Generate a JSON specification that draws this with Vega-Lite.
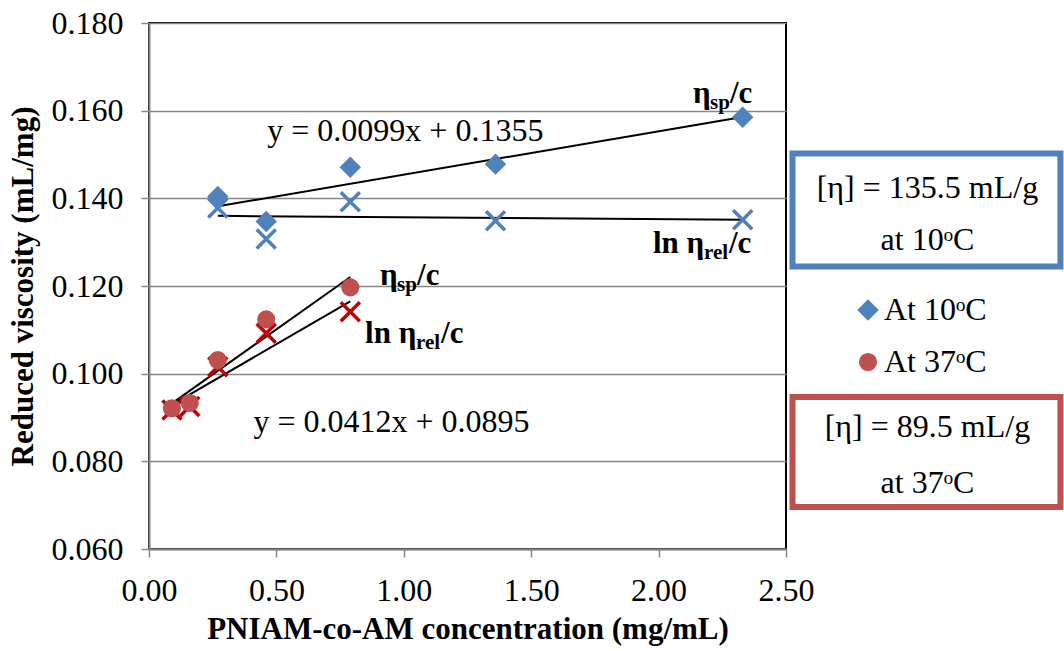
{
  "$schema": "https://vega.github.io/schema/vega-lite/v6.json",
  "width": 637,
  "height": 526,
  "autosize": {"type": "none"},
  "padding": {"left": 149, "top": 23, "right": 278, "bottom": 102},
  "background": "white",
  "config": {
    "view": {"stroke": "#000000", "strokeWidth": 2},
    "font": "Liberation Serif",
    "axis": {
      "labelFont": "Liberation Serif",
      "labelFontSize": 32,
      "labelColor": "#000000",
      "labelFlush": false,
      "titleFont": "Liberation Serif",
      "titleFontSize": 31,
      "titleFontWeight": "bold",
      "titleColor": "#000000",
      "domainColor": "#868686",
      "domainWidth": 2,
      "tickColor": "#868686",
      "tickWidth": 1.5,
      "gridColor": "#868686",
      "gridWidth": 1.5
    },
    "axisX": {"grid": false, "tickSize": 8, "labelPadding": 18, "titlePadding": 8},
    "axisY": {"grid": true, "tickSize": 8, "labelPadding": 18, "titlePadding": 12},
    "legend": {
      "labelFont": "Liberation Serif",
      "labelFontSize": 32,
      "labelColor": "#000000",
      "symbolSize": 400,
      "symbolStrokeWidth": 0,
      "rowPadding": 20,
      "labelOffset": 0,
      "padding": 0
    }
  },
  "datasets": {
    "pts": [
      {"series": "At 10ᵒC", "kind": "sp", "conc": 0.27, "visc": 0.1404},
      {"series": "At 10ᵒC", "kind": "sp", "conc": 0.46, "visc": 0.1347},
      {"series": "At 10ᵒC", "kind": "sp", "conc": 0.79, "visc": 0.1471},
      {"series": "At 10ᵒC", "kind": "sp", "conc": 1.36, "visc": 0.1478},
      {"series": "At 10ᵒC", "kind": "sp", "conc": 2.33, "visc": 0.1585},
      {"series": "At 37ᵒC", "kind": "sp", "conc": 0.09, "visc": 0.0921},
      {"series": "At 37ᵒC", "kind": "sp", "conc": 0.16, "visc": 0.0933},
      {"series": "At 37ᵒC", "kind": "sp", "conc": 0.27, "visc": 0.1031},
      {"series": "At 37ᵒC", "kind": "sp", "conc": 0.46, "visc": 0.1124},
      {"series": "At 37ᵒC", "kind": "sp", "conc": 0.79, "visc": 0.1197},
      {"series": "At 10ᵒC", "kind": "ln", "conc": 0.27, "visc": 0.1378},
      {"series": "At 10ᵒC", "kind": "ln", "conc": 0.46, "visc": 0.1307},
      {"series": "At 10ᵒC", "kind": "ln", "conc": 0.79, "visc": 0.1392},
      {"series": "At 10ᵒC", "kind": "ln", "conc": 1.36, "visc": 0.1349},
      {"series": "At 10ᵒC", "kind": "ln", "conc": 2.33, "visc": 0.1351},
      {"series": "At 37ᵒC", "kind": "ln", "conc": 0.09, "visc": 0.0917},
      {"series": "At 37ᵒC", "kind": "ln", "conc": 0.16, "visc": 0.0925},
      {"series": "At 37ᵒC", "kind": "ln", "conc": 0.27, "visc": 0.1016},
      {"series": "At 37ᵒC", "kind": "ln", "conc": 0.46, "visc": 0.1092},
      {"series": "At 37ᵒC", "kind": "ln", "conc": 0.79, "visc": 0.1141}
    ],
    "fits": [
      {"fit": "sp10", "conc": 0.27, "visc": 0.13817},
      {"fit": "sp10", "conc": 2.33, "visc": 0.15857},
      {"fit": "ln10", "conc": 0.27, "visc": 0.1360},
      {"fit": "ln10", "conc": 2.33, "visc": 0.1351},
      {"fit": "sp37", "conc": 0.09, "visc": 0.09321},
      {"fit": "sp37", "conc": 0.79, "visc": 0.12205},
      {"fit": "ln37", "conc": 0.09, "visc": 0.0929},
      {"fit": "ln37", "conc": 0.79, "visc": 0.1165}
    ],
    "eqs": [
      {"label": "y = 0.0099x + 0.1355", "conc": 1.006, "visc": 0.1531},
      {"label": "y = 0.0412x + 0.0895", "conc": 0.952, "visc": 0.0867}
    ],
    "spLabels": [
      {"conc": 2.135, "visc": 0.1617},
      {"conc": 0.907, "visc": 0.1202}
    ],
    "lnLabels": [
      {"conc": 1.978, "visc": 0.1275},
      {"conc": 0.848, "visc": 0.1070}
    ],
    "boxes": [
      {"temp": "10", "conc": 2.5255, "conc2": 3.577, "visc": 0.15023, "visc2": 0.12445},
      {"temp": "37", "conc": 2.5255, "conc2": 3.577, "visc": 0.09468, "visc2": 0.06958}
    ],
    "boxText": [
      {"label": "[η] = 135.5 mL/g", "conc": 3.055, "visc": 0.14008},
      {"label": "at 10ᵒC", "conc": 3.055, "visc": 0.12821},
      {"label": "[η] = 89.5 mL/g", "conc": 3.055, "visc": 0.08555},
      {"label": "at 37ᵒC", "conc": 3.055, "visc": 0.07278}
    ]
  },
  "layer": [
    {
      "data": {"name": "boxes"},
      "mark": {"type": "rect", "fill": "white", "strokeWidth": 6},
      "encoding": {
        "x": {"field": "conc", "type": "quantitative", "scale": {"domain": [0, 2.5], "nice": false, "zero": false}, "title": "PNIAM-co-AM concentration (mg/mL)", "axis": {"values": [0, 0.5, 1, 1.5, 2, 2.5], "format": ".2f"}},
        "x2": {"field": "conc2"},
        "y": {"field": "visc", "type": "quantitative", "scale": {"domain": [0.06, 0.18], "nice": false, "zero": false}, "title": "Reduced viscosity (mL/mg)", "axis": {"values": [0.06, 0.08, 0.1, 0.12, 0.14, 0.16, 0.18], "format": ".3f"}},
        "y2": {"field": "visc2"},
        "stroke": {"field": "temp", "type": "nominal", "scale": {"domain": ["10", "37"], "range": ["#4F81BD", "#C0504D"]}, "legend": null}
      }
    },
    {
      "data": {"name": "fits"},
      "mark": {"type": "line", "color": "#000000", "strokeWidth": 2},
      "encoding": {
        "x": {"field": "conc", "type": "quantitative", "title": "PNIAM-co-AM concentration (mg/mL)"},
        "y": {"field": "visc", "type": "quantitative", "title": "Reduced viscosity (mL/mg)"},
        "detail": {"field": "fit", "type": "nominal"}
      }
    },
    {
      "data": {"name": "pts"},
      "transform": [{"filter": "datum.kind === 'ln' && datum.series === 'At 10ᵒC'"}],
      "mark": {"type": "point", "shape": "M-1,-1L1,1M-1,1L1,-1", "size": 361, "filled": false, "stroke": "#4F81BD", "strokeWidth": 3.5, "opacity": 1},
      "encoding": {
        "x": {"field": "conc", "type": "quantitative", "title": "PNIAM-co-AM concentration (mg/mL)"},
        "y": {"field": "visc", "type": "quantitative", "title": "Reduced viscosity (mL/mg)"}
      }
    },
    {
      "data": {"name": "pts"},
      "transform": [{"filter": "datum.kind === 'ln' && datum.series === 'At 37ᵒC'"}],
      "mark": {"type": "point", "shape": "M-1,-1L1,1M-1,1L1,-1", "size": 361, "filled": false, "stroke": "#C00000", "strokeWidth": 3.5, "opacity": 1},
      "encoding": {
        "x": {"field": "conc", "type": "quantitative", "title": "PNIAM-co-AM concentration (mg/mL)"},
        "y": {"field": "visc", "type": "quantitative", "title": "Reduced viscosity (mL/mg)"}
      }
    },
    {
      "data": {"name": "pts"},
      "transform": [{"filter": "datum.kind === 'sp'"}],
      "mark": {"type": "point", "filled": true, "opacity": 1, "strokeWidth": 0},
      "encoding": {
        "x": {"field": "conc", "type": "quantitative", "title": "PNIAM-co-AM concentration (mg/mL)"},
        "y": {"field": "visc", "type": "quantitative", "title": "Reduced viscosity (mL/mg)"},
        "color": {"field": "series", "type": "nominal", "scale": {"domain": ["At 10ᵒC", "At 37ᵒC"], "range": ["#4F81BD", "#C0504D"]}, "legend": {"orient": "none", "legendX": 703, "legendY": 271, "title": null}},
        "shape": {"field": "series", "type": "nominal", "scale": {"domain": ["At 10ᵒC", "At 37ᵒC"], "range": ["diamond", "circle"]}, "legend": {"orient": "none", "legendX": 703, "legendY": 271, "title": null}},
        "size": {"field": "series", "type": "nominal", "scale": {"domain": ["At 10ᵒC", "At 37ᵒC"], "range": [460, 330]}, "legend": null}
      }
    },
    {
      "data": {"name": "eqs"},
      "mark": {"type": "text", "font": "Liberation Serif", "fontSize": 32, "align": "center", "baseline": "alphabetic", "color": "#000000"},
      "encoding": {
        "x": {"field": "conc", "type": "quantitative", "title": "PNIAM-co-AM concentration (mg/mL)"},
        "y": {"field": "visc", "type": "quantitative", "title": "Reduced viscosity (mL/mg)"},
        "text": {"field": "label"}
      }
    },
    {
      "data": {"name": "spLabels"},
      "mark": {"type": "text", "text": "η", "font": "Liberation Serif", "fontSize": 31, "fontWeight": "bold", "align": "left", "baseline": "alphabetic", "color": "#000000"},
      "encoding": {
        "x": {"field": "conc", "type": "quantitative", "title": "PNIAM-co-AM concentration (mg/mL)"},
        "y": {"field": "visc", "type": "quantitative", "title": "Reduced viscosity (mL/mg)"}
      }
    },
    {
      "data": {"name": "spLabels"},
      "mark": {"type": "text", "text": "sp", "font": "Liberation Serif", "fontSize": 21, "fontWeight": "bold", "align": "left", "baseline": "alphabetic", "dx": 17, "dy": 6, "color": "#000000"},
      "encoding": {
        "x": {"field": "conc", "type": "quantitative", "title": "PNIAM-co-AM concentration (mg/mL)"},
        "y": {"field": "visc", "type": "quantitative", "title": "Reduced viscosity (mL/mg)"}
      }
    },
    {
      "data": {"name": "spLabels"},
      "mark": {"type": "text", "text": "/c", "font": "Liberation Serif", "fontSize": 31, "fontWeight": "bold", "align": "left", "baseline": "alphabetic", "dx": 37, "color": "#000000"},
      "encoding": {
        "x": {"field": "conc", "type": "quantitative", "title": "PNIAM-co-AM concentration (mg/mL)"},
        "y": {"field": "visc", "type": "quantitative", "title": "Reduced viscosity (mL/mg)"}
      }
    },
    {
      "data": {"name": "lnLabels"},
      "mark": {"type": "text", "text": "ln η", "font": "Liberation Serif", "fontSize": 31, "fontWeight": "bold", "align": "left", "baseline": "alphabetic", "color": "#000000"},
      "encoding": {
        "x": {"field": "conc", "type": "quantitative", "title": "PNIAM-co-AM concentration (mg/mL)"},
        "y": {"field": "visc", "type": "quantitative", "title": "Reduced viscosity (mL/mg)"}
      }
    },
    {
      "data": {"name": "lnLabels"},
      "mark": {"type": "text", "text": "rel", "font": "Liberation Serif", "fontSize": 21, "fontWeight": "bold", "align": "left", "baseline": "alphabetic", "dx": 51, "dy": 6, "color": "#000000"},
      "encoding": {
        "x": {"field": "conc", "type": "quantitative", "title": "PNIAM-co-AM concentration (mg/mL)"},
        "y": {"field": "visc", "type": "quantitative", "title": "Reduced viscosity (mL/mg)"}
      }
    },
    {
      "data": {"name": "lnLabels"},
      "mark": {"type": "text", "text": "/c", "font": "Liberation Serif", "fontSize": 31, "fontWeight": "bold", "align": "left", "baseline": "alphabetic", "dx": 76, "color": "#000000"},
      "encoding": {
        "x": {"field": "conc", "type": "quantitative", "title": "PNIAM-co-AM concentration (mg/mL)"},
        "y": {"field": "visc", "type": "quantitative", "title": "Reduced viscosity (mL/mg)"}
      }
    },
    {
      "data": {"name": "boxText"},
      "mark": {"type": "text", "font": "Liberation Serif", "fontSize": 32, "align": "center", "baseline": "alphabetic", "color": "#000000"},
      "encoding": {
        "x": {"field": "conc", "type": "quantitative", "title": "PNIAM-co-AM concentration (mg/mL)"},
        "y": {"field": "visc", "type": "quantitative", "title": "Reduced viscosity (mL/mg)"},
        "text": {"field": "label"}
      }
    }
  ]
}
